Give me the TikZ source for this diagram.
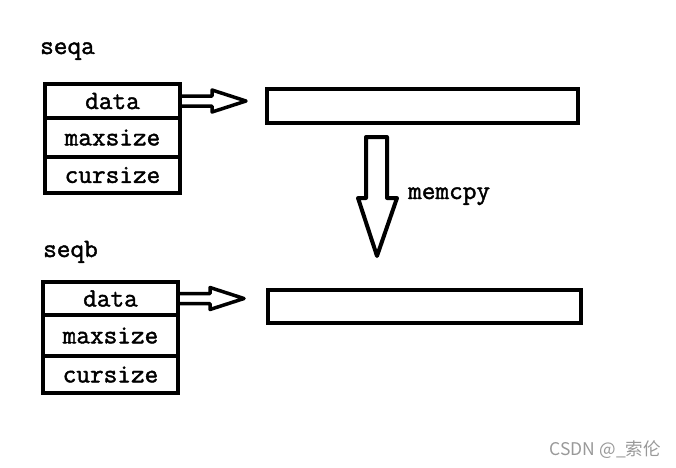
\documentclass[tikz,border=0pt]{standalone}
\usepackage{fontspec}
\newfontfamily\codefont{Latin Modern Mono}[FakeBold=1.6]
\newfontfamily\wmfont{Noto Sans CJK SC}
\usetikzlibrary{calc}
\begin{document}
\begin{tikzpicture}[x=1pt,y=-1pt,
  cell/.style={draw,line width=4pt,minimum width=135pt,inner sep=0pt,outer sep=0pt,font=\codefont\fontsize{26.5}{26.5}\selectfont},
  buf/.style={draw,line width=4pt,inner sep=0pt,outer sep=0pt},
  lbl/.style={anchor=base west,inner sep=0pt,font=\codefont\fontsize{26.5}{26.5}\selectfont},
  hollow/.style={draw,line width=3.5pt,line join=round}]
\useasboundingbox (0,0) rectangle (676,467);
% struct a
\node[lbl] (seqa) at (40,54) {seqa};
\node[cell,minimum height=34pt] (dataA) at (112.5,101) {data};
\node[cell,minimum height=39pt] (maxA) at (112.5,137.5) {maxsize};
\node[cell,minimum height=36pt] (curA) at (112.5,175) {cursize};
\node[buf,minimum width=311pt,minimum height=34pt] (bufA) at (422.5,106) {};
% struct b
\node[lbl] (seqb) at (43,257) {seqb};
\node[cell,minimum height=33pt] (dataB) at (110.5,298.5) {data};
\node[cell,minimum height=41pt] (maxB) at (110.5,335.5) {maxsize};
\node[cell,minimum height=37pt] (curB) at (110.5,374.5) {cursize};
\node[buf,minimum width=313pt,minimum height=33pt] (bufB) at (424.5,306.5) {};
% hollow arrows
\draw[hollow] (dataA.east) ++(0,-5) -- ++(32,0) -- ++(0,-6) -- ++(34,11) -- ++(-34,11) -- ++(0,-6) -- ++(-32,0) -- cycle;
\draw[hollow] (dataB.east) ++(0,-5) -- ++(32,0) -- ++(0,-6) -- ++(34,11) -- ++(-34,11) -- ++(0,-6) -- ++(-32,0) -- cycle;
\coordinate (dtop) at ($(bufA.south west)+(99,14)$);
\draw[hollow,line width=4pt] (dtop) -- ++(21,0) -- ++(0,61) -- ++(10,0) -- ++(-20,58) -- ++(-19,-58) -- ++(8,0) -- cycle;
\node[lbl] (memcpy) at (408,199) {memcpy};
\node[anchor=base east,inner sep=0pt,text=black!40,font=\wmfont\fontsize{17.5}{17.5}\selectfont] (wm) at (661,455) {CSDN @\_索伦};
\end{tikzpicture}
\end{document}
